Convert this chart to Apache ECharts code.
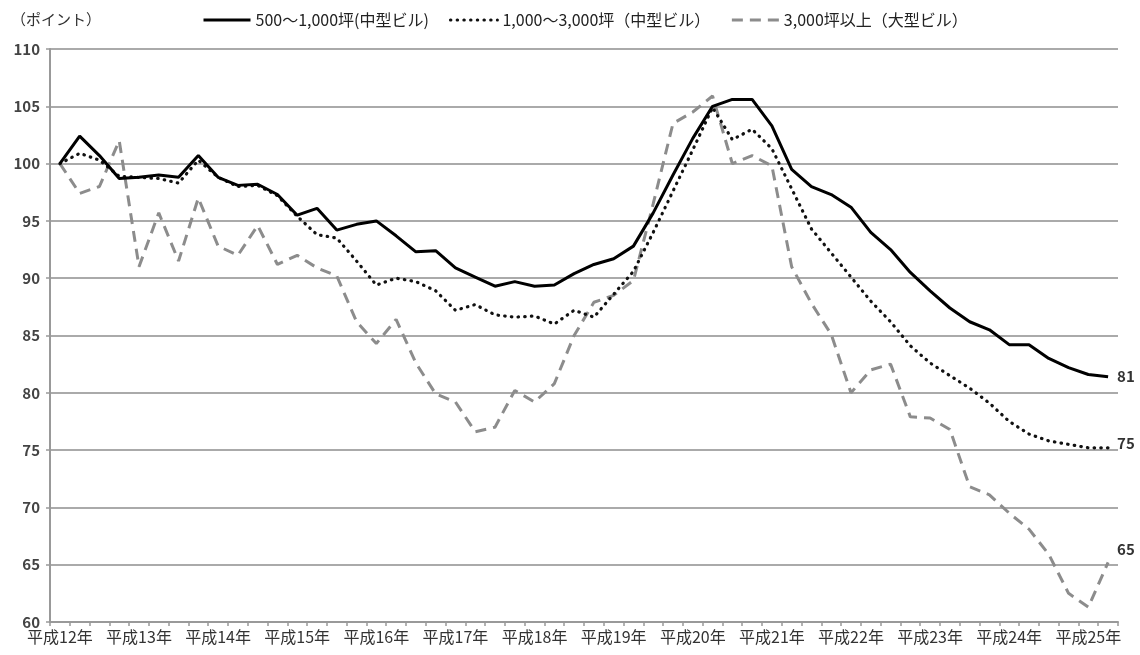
<!DOCTYPE html>
<html>
<head>
<meta charset="utf-8">
<script src="https://cdn.jsdelivr.net/npm/echarts@6/dist/echarts.min.js"></script>
<style>
html,body{margin:0;padding:0;background:#fff;}
#chart{width:1140px;height:655px;}
</style>
</head>
<body>
<div id="chart"></div>
<script>
// ---- data ----
const years = ['平成12年','平成13年','平成14年','平成15年','平成16年','平成17年','平成18年',
               '平成19年','平成20年','平成21年','平成22年','平成23年','平成24年','平成25年'];
const quartersPerYear = [4,4,4,4,4,4,4,4,4,4,4,4,4,2];
const seriesNames = ['500～1,000坪(中型ビル)','1,000～3,000坪（中型ビル）','3,000坪以上（大型ビル）'];
const yTicks = { min: 60, max: 110, interval: 5 };

const medium500 = [100,102.4,100.7,98.7,98.8,99.0,98.8,100.7,98.8,98.1,98.2,97.3,95.5,96.1,94.2,94.7,
  95.0,93.7,92.3,92.4,90.9,90.1,89.3,89.7,89.3,89.4,90.4,91.2,91.7,92.8,95.7,99.0,102.2,105.0,105.6,105.6,
  103.3,99.5,98.0,97.3,96.2,94.0,92.5,90.5,88.9,87.4,86.2,85.5,84.2,84.2,83.0,82.2,81.6,81.4];
const medium1000 = [100,100.9,100.3,98.9,98.8,98.7,98.3,100.3,98.8,98.0,98.1,97.2,95.4,93.8,93.5,91.5,
  89.4,90.0,89.7,88.9,87.2,87.7,86.8,86.6,86.7,86.0,87.2,86.6,88.6,90.6,94.0,97.6,101.2,104.9,102.1,103.0,
  101.3,97.8,94.3,92.2,90.1,88.0,86.2,84.1,82.6,81.5,80.4,79.1,77.5,76.4,75.8,75.5,75.2,75.2];
const large3000 = [100,97.4,98.0,102.0,91.0,95.7,91.5,97.0,92.8,92.0,94.6,91.2,92.0,90.9,90.2,86.2,
  84.3,86.4,82.6,79.9,79.2,76.6,77.0,80.2,79.2,80.8,85.0,87.9,88.5,89.8,96.5,103.5,104.5,105.9,100.0,100.7,
  99.8,91.0,87.8,85.1,80.0,82.0,82.5,77.9,77.8,76.8,71.8,71.1,69.5,68.1,65.9,62.5,61.3,65.2];

// categories: one per quarter, labelled by year
const categories = [];
years.forEach((y, i) => { for (let q = 1; q <= quartersPerYear[i]; q++) categories.push(y + '|' + q); });

const FONT = '"Noto Sans CJK JP", "Noto Sans", sans-serif';
const chart = echarts.init(document.getElementById('chart'), null, { renderer: 'canvas' });

function endLbl(offset) {
  return {
    show: true,
    formatter: p => String(Math.round(p.value)),
    color: '#333', fontFamily: FONT, fontSize: 15, fontWeight: 'bold',
    distance: 9, offset: offset
  };
}

chart.setOption({
  animation: false,
  backgroundColor: '#fff',
  title: {
    text: '（ポイント）', left: 6, top: 7,
    textStyle: { fontFamily: FONT, fontSize: 15, fontWeight: 'normal', color: '#333' }
  },
  legend: {
    left: 197, top: 7, itemWidth: 47, itemHeight: 14, itemGap: 20,
    data: seriesNames,
    itemStyle: { opacity: 0 },
    lineStyle: { width: 3 },
    textStyle: { fontFamily: FONT, fontSize: 16, color: '#222' }
  },
  grid: { left: 50, right: 22, top: 49, bottom: 33, containLabel: false },
  xAxis: {
    type: 'category', data: categories, boundaryGap: true,
    axisLine: { lineStyle: { color: '#999', width: 2 } },
    axisTick: { show: true, interval: 0, length: 4, lineStyle: { color: '#999', width: 1.5 } },
    axisLabel: {
      interval: 3, margin: 7, formatter: v => v.split('|')[0],
      fontFamily: FONT, fontSize: 16, color: '#333'
    },
    splitLine: { show: false }
  },
  yAxis: {
    type: 'value', min: yTicks.min, max: yTicks.max, interval: yTicks.interval,
    axisLine: { show: true, lineStyle: { color: '#999', width: 2 } },
    axisTick: { show: true, length: 4, lineStyle: { color: '#999', width: 1.5 } },
    axisLabel: { margin: 10, fontFamily: FONT, fontSize: 15, fontWeight: 'bold', color: '#444' },
    splitLine: { lineStyle: { color: '#aaa', width: 2 } }
  },
  series: [
    {
      name: seriesNames[0], type: 'line', data: medium500, symbol: 'none', z: 5,
      lineStyle: { color: '#000', width: 3 }, itemStyle: { color: '#000' },
      endLabel: endLbl([0, 0])
    },
    {
      name: seriesNames[1], type: 'line', data: medium1000, symbol: 'none', z: 4,
      lineStyle: { color: '#111', width: 3.2, type: [0.5, 6.2], cap: 'round' }, itemStyle: { color: '#111' },
      endLabel: endLbl([0, -5])
    },
    {
      name: seriesNames[2], type: 'line', data: large3000, symbol: 'none', z: 3,
      lineStyle: { color: '#8c8c8c', width: 3, type: [11, 7] }, itemStyle: { color: '#8c8c8c' },
      endLabel: endLbl([0, -13])
    }
  ]
});
</script>
</body>
</html>
